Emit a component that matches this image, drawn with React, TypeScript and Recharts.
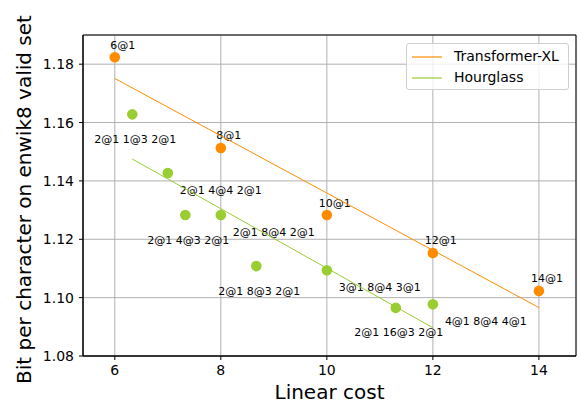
import React from "react";
import {
  CartesianGrid,
  ComposedChart,
  Label,
  ReferenceArea,
  Scatter,
  XAxis,
  YAxis,
} from "recharts";

// measured points
const txlCost = [6, 8, 10, 12, 14];
const txlBpc = [1.1824, 1.1513, 1.1283, 1.1153, 1.1023];
const txlNames = ["6@1", "8@1", "10@1", "12@1", "14@1"];

const hgCost = [6.33, 7.0, 7.33, 8.0, 8.67, 10.0, 11.3, 12.0];
const hgBpc = [1.1628, 1.1427, 1.1283, 1.1283, 1.1108, 1.1094, 1.0965, 1.0977];
const hgNames = [
  "2@1 1@3 2@1",
  "2@1 4@4 2@1",
  "2@1 4@3 2@1",
  "2@1 8@4 2@1",
  "2@1 8@3 2@1",
  "3@1 8@4 3@1",
  "2@1 16@3 2@1",
  "4@1 8@4 4@1",
];

// fitted lines (endpoints)
const txlFitX = [6, 14];
const txlFitY = [1.1751, 1.0966];
const hgFitX = [6.33, 12];
const hgFitY = [1.1475, 1.0897];

const xTicks = [6, 8, 10, 12, 14];
const yTicks = [1.08, 1.1, 1.12, 1.14, 1.16, 1.18];

const ORANGE = "#ff8c00";
const GREEN = "#9acd32";
const FONT = "DejaVu Sans";

const zip = (xs: number[], ys: number[], names?: string[]) =>
  xs.map((x, i) => ({ x, y: ys[i], name: names ? names[i] : "" }));

const txlData = zip(txlCost, txlBpc, txlNames);
const hgData = zip(hgCost, hgBpc, hgNames);
const txlFit = zip(txlFitX, txlFitY);
const hgFit = zip(hgFitX, hgFitY);

const makeDot = (color: string, orange: boolean) => (props: any) => {
  const { cx, cy, payload } = props;
  let dx = 8;
  let dy = -12;
  if (!orange) {
    if (payload.name.includes("@4 ")) {
      dx = 53;
      dy = 17;
    } else {
      dx = 3;
      dy = 25;
    }
  }
  return (
    <g>
      <circle cx={cx} cy={cy} r={5.3} fill={color} />
      <text
        x={cx + dx}
        y={cy + dy}
        textAnchor="middle"
        dominantBaseline="central"
        fontSize={11}
        fontFamily={FONT}
        fill="#000"
      >
        {payload.name}
      </text>
    </g>
  );
};

const noShape = () => <g />;

const LegendBox = () => (
  <div
    style={{
      position: "absolute",
      left: 406,
      top: 43,
      width: 163,
      height: 47,
      border: "1px solid #d0d0d0",
      borderRadius: 3,
      background: "rgba(255,255,255,0.8)",
      fontFamily: FONT,
      fontSize: 14,
      color: "#000",
      boxSizing: "border-box",
      paddingTop: 2,
    }}
  >
    {[
      ["Transformer-XL", ORANGE],
      ["Hourglass", GREEN],
    ].map(([t, c]) => (
      <div
        key={t}
        style={{ display: "flex", alignItems: "center", height: 21, lineHeight: "21px" }}
      >
        <svg width={30} height={4} style={{ marginLeft: 5, marginRight: 12 }}>
          <line x1={0} y1={2} x2={30} y2={2} stroke={c} strokeWidth={1.2} />
        </svg>
        <span>{t}</span>
      </div>
    ))}
  </div>
);

const App: React.FC = () => {
  return (
    <div style={{ position: "absolute", left: 0, top: 0, background: "#fff" }}>
      <ComposedChart
        width={581}
        height={406}
        margin={{ top: 35, right: 5, bottom: 0, left: 0 }}
      >
        <CartesianGrid stroke="#b0b0b0" strokeWidth={1} />
        <XAxis
          type="number"
          dataKey="x"
          domain={[5.4, 14.7]}
          ticks={xTicks}
          allowDataOverflow
          height={50}
          tickSize={4}
          tickMargin={5}
          stroke="#000"
          tick={{ fill: "#000", fontSize: 14, fontFamily: FONT }}
        >
          <Label
            value="Linear cost"
            position="insideBottom"
            offset={7}
            style={{ fontSize: 20, fontFamily: FONT, fill: "#000" }}
          />
        </XAxis>
        <YAxis
          type="number"
          dataKey="y"
          domain={[1.08, 1.19]}
          ticks={yTicks}
          allowDataOverflow
          width={83}
          tickSize={4}
          tickMargin={5}
          stroke="#000"
          tickFormatter={(v: number) => v.toFixed(2)}
          tick={{ fill: "#000", fontSize: 14, fontFamily: FONT }}
        >
          <Label
            value="Bit per character on enwik8 valid set"
            angle={-90}
            position="insideLeft"
            offset={24}
            dy={4}
            style={{ fontSize: 20, fontFamily: FONT, fill: "#000", textAnchor: "middle" }}
          />
        </YAxis>
        <ReferenceArea
          x1={5.4}
          x2={14.7}
          y1={1.08}
          y2={1.19}
          fill="none"
          stroke="#000"
          strokeWidth={1}
          ifOverflow="extendDomain"
        />
        <Scatter
          name="Transformer-XL"
          data={txlData}
          shape={makeDot(ORANGE, true)}
          isAnimationActive={false}
        />
        <Scatter
          name="Hourglass"
          data={hgData}
          shape={makeDot(GREEN, false)}
          isAnimationActive={false}
        />
        <Scatter
          data={txlFit}
          line={{ stroke: ORANGE, strokeWidth: 1 }}
          shape={noShape}
          legendType="none"
          isAnimationActive={false}
        />
        <Scatter
          data={hgFit}
          line={{ stroke: GREEN, strokeWidth: 1 }}
          shape={noShape}
          legendType="none"
          isAnimationActive={false}
        />
      </ComposedChart>
      <LegendBox />
    </div>
  );
};

export default App;
